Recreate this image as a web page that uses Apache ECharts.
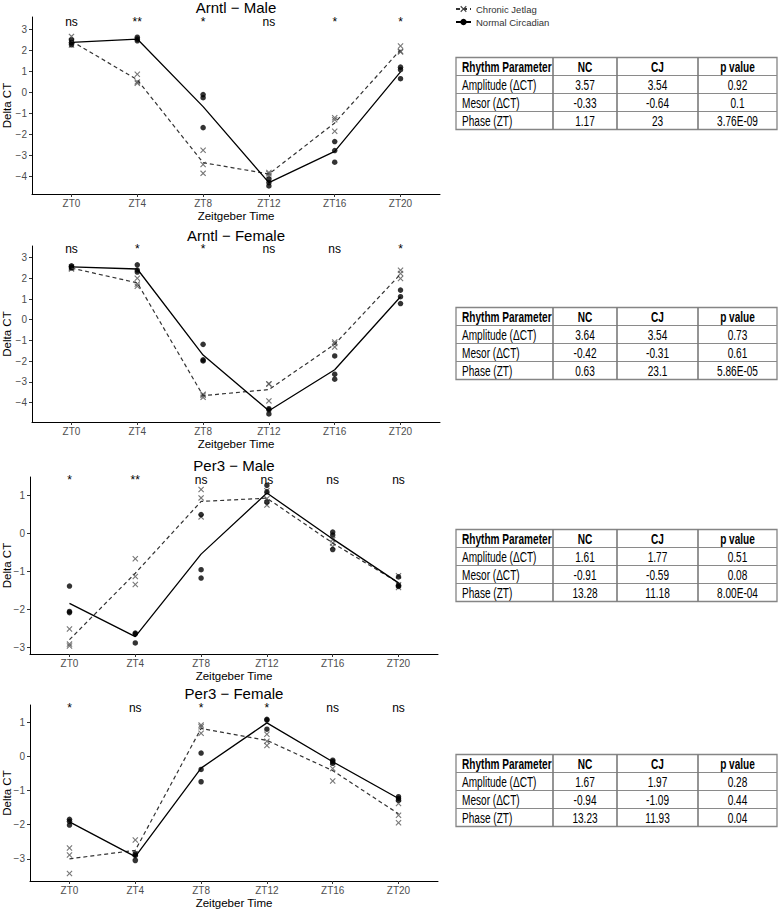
<!DOCTYPE html>
<html><head><meta charset="utf-8">
<script src="https://cdn.jsdelivr.net/npm/echarts@6/dist/echarts.min.js"></script>
<style>html,body{margin:0;padding:0;background:#fff}#c{width:779px;height:909px}</style>
</head><body><div id="c"></div>
<script>
// ---------- data ----------
const ztHours = [0, 4, 8, 12, 16, 20];
const ztLabels = ['ZT0', 'ZT4', 'ZT8', 'ZT12', 'ZT16', 'ZT20'];
const panelTitles = ['Arntl − Male', 'Arntl − Female', 'Per3 − Male', 'Per3 − Female'];
const seriesNames = ['Chronic Jetlag', 'Normal Circadian'];

// replicate Delta CT values per time point
const arntlMaleNC = [[2.49, 2.37, 2.26], [2.62, 2.53, 2.45], [-0.1, -0.25, -1.67], [-4.12, -4.28, -4.44], [-2.33, -2.76, -3.31], [1.2, 1.08, 0.65]];
const arntlMaleCJ = [[2.66, 2.4, 2.25], [0.86, 0.5, 0.44], [-2.74, -3.42, -3.84], [-3.8, -3.86, -3.95], [-1.2, -1.3, -1.84], [2.2, 1.95, 1.92]];
const arntlFemaleNC = [[2.6, 2.55, 2.5], [2.65, 2.4, 2.3], [-1.19, -1.94, -1.99], [-4.3, -4.35, -4.55], [-1.75, -2.63, -2.87], [1.43, 1.11, 0.78]];
const arntlFemaleCJ = [[2.55, 2.48, 2.45], [2.0, 1.72, 1.62], [-3.6, -3.65, -3.75], [-3.1, -3.1, -3.92], [-1.08, -1.15, -1.32], [2.39, 2.23, 1.99]];
const per3MaleNC = [[-1.38, -2.05, -2.08], [-2.62, -2.64, -2.88], [0.5, -0.95, -1.17], [1.27, 1.1, 0.83], [0.04, -0.04, -0.42], [-1.14, -1.36, -1.39]];
const per3MaleCJ = [[-2.51, -2.91, -2.96], [-0.66, -1.13, -1.34], [1.16, 0.94, 0.44], [1.13, 0.92, 0.75], [-0.16, -0.25, -0.34], [-1.11, -1.35, -1.42]];
const per3FemaleNC = [[-1.84, -1.9, -2.01], [-2.85, -2.9, -3.05], [0.1, -0.38, -0.74], [1.09, 1.07, 0.8], [-0.11, -0.15, -0.2], [-1.18, -1.23, -1.28]];
const per3FemaleCJ = [[-2.68, -2.89, -3.43], [-2.45, -2.85, -2.95], [0.92, 0.87, 0.68], [0.65, 0.45, 0.32], [-0.17, -0.35, -0.72], [-1.38, -1.72, -1.94]];

const sigArntlMale = ['ns', '**', '*', 'ns', '*', '*'];
const sigArntlFemale = ['ns', '*', '*', 'ns', 'ns', '*'];
const sigPer3Male = ['*', '**', 'ns', 'ns', 'ns', 'ns'];
const sigPer3Female = ['*', 'ns', '*', '*', 'ns', 'ns'];

const yTicksArntl = [-4, -3, -2, -1, 0, 1, 2, 3];
const yTicksPer3 = [-3, -2, -1, 0, 1];

const tableHeader = ['Rhythm Parameter', 'NC', 'CJ', 'p value'];
const rowLabels = ['Amplitude (ΔCT)', 'Mesor (ΔCT)', 'Phase (ZT)'];
const arntlMaleTable = [['3.57', '3.54', '0.92'], ['-0.33', '-0.64', '0.1'], ['1.17', '23', '3.76E-09']];
const arntlFemaleTable = [['3.64', '3.54', '0.73'], ['-0.42', '-0.31', '0.61'], ['0.63', '23.1', '5.86E-05']];
const per3MaleTable = [['1.61', '1.77', '0.51'], ['-0.91', '-0.59', '0.08'], ['13.28', '11.18', '8.00E-04']];
const per3FemaleTable = [['1.67', '1.97', '0.28'], ['-0.94', '-1.09', '0.44'], ['13.23', '11.93', '0.04']];

// ---------- layout ----------
const FONT = "'Liberation Sans', Arial, Helvetica, sans-serif";
const panels = [
  { nc: arntlMaleNC, cj: arntlMaleCJ, sig: sigArntlMale, ticks: yTicksArntl, table: arntlMaleTable,
    left: 32, top: 17, width: 408, height: 177, ymin: -4.82, ymax: 3.58, sigY: 3.33, titleTop: 0, tableTop: 57.5, nameGapY: 19 },
  { nc: arntlFemaleNC, cj: arntlFemaleCJ, sig: sigArntlFemale, ticks: yTicksArntl, table: arntlFemaleTable,
    left: 32, top: 246, width: 408, height: 176, ymin: -4.94, ymax: 3.56, sigY: 3.39, titleTop: 227.5, tableTop: 307.5, nameGapY: 19 },
  { nc: per3MaleNC, cj: per3MaleCJ, sig: sigPer3Male, ticks: yTicksPer3, table: per3MaleTable,
    left: 30, top: 477, width: 408, height: 177, ymin: -3.17, ymax: 1.49, sigY: 1.40, titleTop: 457.5, tableTop: 529.5, nameGapY: 17 },
  { nc: per3FemaleNC, cj: per3FemaleCJ, sig: sigPer3Female, ticks: yTicksPer3, table: per3FemaleTable,
    left: 30, top: 705, width: 408, height: 176, ymin: -3.65, ymax: 1.51, sigY: 1.41, titleTop: 685.5, tableTop: 754.5, nameGapY: 17 }
];

const xSymbol = 'path://M0,1.3L1.3,0L5,3.7L8.7,0L10,1.3L6.3,5L10,8.7L8.7,10L5,6.3L1.3,10L0,8.7L3.7,5Z';
const mean = a => a.reduce((s, v) => s + v, 0) / a.length;
const fmtMinus = v => String(v).replace('-', '−');

const grids = [], xAxes = [], yAxes = [], titles = [], series = [], graphics = [];

panels.forEach((p, i) => {
  grids.push({ left: p.left, top: p.top, width: p.width, height: p.height, containLabel: false, outerBoundsMode: 'none' });
  titles.push({ text: panelTitles[i], left: p.left + p.width / 2, top: p.titleTop, textAlign: 'center', padding: 0,
    textStyle: { fontSize: 15, fontWeight: 'normal', color: '#000', fontFamily: FONT } });
  xAxes.push({
    type: 'value', gridIndex: i, min: -2.4, max: 22.4,
    splitLine: { show: false },
    axisLine: { show: true, onZero: false, lineStyle: { color: '#000', width: 1 } },
    axisTick: { show: true, customValues: ztHours, length: 3, lineStyle: { color: '#333', width: 1 } },
    axisLabel: { customValues: ztHours, formatter: v => ztLabels[ztHours.indexOf(v)], color: '#4d4d4d', fontSize: 10, margin: 4, fontFamily: FONT },
    name: 'Zeitgeber Time', nameLocation: 'middle', nameGap: 16,
    nameTextStyle: { color: '#000', fontSize: 11.5, fontFamily: FONT }
  });
  yAxes.push({
    type: 'value', gridIndex: i, min: p.ymin, max: p.ymax,
    splitLine: { show: false },
    axisLine: { show: true, onZero: false, lineStyle: { color: '#000', width: 1 } },
    axisTick: { show: true, customValues: p.ticks, length: 3, lineStyle: { color: '#333', width: 1 } },
    axisLabel: { customValues: p.ticks, formatter: fmtMinus, color: '#4d4d4d', fontSize: 10, margin: 5, fontFamily: FONT },
    name: 'Delta CT', nameLocation: 'middle', nameGap: p.nameGapY, nameMoveOverlap: false,
    nameTextStyle: { color: '#000', fontSize: 11.5, fontFamily: FONT }
  });

  // mean lines
  series.push({
    type: 'line', name: seriesNames[0], xAxisIndex: i, yAxisIndex: i,
    data: ztHours.map((t, k) => [t, mean(p.cj[k])]),
    symbol: xSymbol, showSymbol: false, symbolSize: 6,
    itemStyle: { color: '#444' },
    lineStyle: { color: '#333', width: 1.2, type: [4, 3] }, z: 3, animation: false
  });
  series.push({
    type: 'line', name: seriesNames[1], xAxisIndex: i, yAxisIndex: i,
    data: ztHours.map((t, k) => [t, mean(p.nc[k])]),
    symbol: 'circle', showSymbol: false, symbolSize: 5,
    itemStyle: { color: '#000' },
    lineStyle: { color: '#000', width: 1.3 }, z: 3, animation: false
  });
  // replicate points
  const cjPts = [], ncPts = [];
  ztHours.forEach((t, k) => {
    p.cj[k].forEach(v => cjPts.push([t, v]));
    p.nc[k].forEach(v => ncPts.push([t, v]));
  });
  series.push({
    type: 'scatter', name: seriesNames[0], xAxisIndex: i, yAxisIndex: i, data: cjPts,
    symbol: xSymbol, symbolSize: 6, itemStyle: { color: '#555' }, z: 2, animation: false
  });
  series.push({
    type: 'scatter', name: seriesNames[1], xAxisIndex: i, yAxisIndex: i, data: ncPts,
    symbol: 'circle', symbolSize: 5.5, itemStyle: { color: '#000' }, z: 2, animation: false
  });
  // significance labels
  series.push({
    type: 'scatter', xAxisIndex: i, yAxisIndex: i, silent: true, color: '#000',
    data: ztHours.map(t => [t, p.sigY]),
    symbolSize: 1, itemStyle: { color: '#fff', opacity: 1 },
    label: { show: true, position: 'top', distance: -6, formatter: q => p.sig[q.dataIndex], color: '#000',
      textBorderWidth: 0, fontSize: 12, lineHeight: 12, fontFamily: FONT },
    z: 1, animation: false
  });

  // table
  const cols = [456, 553, 617, 698, 777];
  const rh = 18, T = p.tableTop;
  const kids = [];
  kids.push({ type: 'rect', shape: { x: cols[0], y: T, width: cols[4] - cols[0], height: rh * 4 },
    style: { fill: '#fff', stroke: '#858585', lineWidth: 1.3 } });
  for (let r = 1; r < 4; r++) {
    kids.push({ type: 'line', shape: { x1: cols[0], y1: T + r * rh, x2: cols[4], y2: T + r * rh },
      style: { stroke: '#8a8a8a', lineWidth: 1 } });
  }
  for (let c = 1; c < 4; c++) {
    kids.push({ type: 'line', shape: { x1: cols[c], y1: T, x2: cols[c], y2: T + 4 * rh },
      style: { stroke: '#7a7a7a', lineWidth: 1.6 } });
  }
  const rows = [tableHeader].concat(rowLabels.map((lab, r) => [lab].concat(p.table[r])));
  rows.forEach((row, r) => {
    row.forEach((txt, c) => {
      const isFirst = c === 0;
      kids.push({
        type: 'text',
        x: isFirst ? cols[0] + 6 : (cols[c] + cols[c + 1]) / 2,
        y: T + r * rh + rh / 2 + 0.5,
        scaleX: 0.72,
        style: {
          text: txt, x: 0, y: 0, fill: '#000',
          fontSize: 14, fontFamily: FONT, fontWeight: r === 0 ? 'bold' : 'normal',
          align: isFirst ? 'left' : 'center', verticalAlign: 'middle',
          textAlign: isFirst ? 'left' : 'center', textVerticalAlign: 'middle'
        }
      });
    });
  });
  graphics.push({ type: 'group', children: kids });
});

const chart = echarts.init(document.getElementById('c'), null, { renderer: 'svg' });
chart.setOption({
  backgroundColor: '#fff',
  animation: false,
  textStyle: { fontFamily: FONT },
  title: titles,
  legend: {
    data: seriesNames, orient: 'vertical', left: 455, top: 4, padding: 0,
    itemWidth: 15, itemHeight: 8, itemGap: 3, selectedMode: false,
    textStyle: { fontSize: 9.5, color: '#333', fontFamily: FONT }
  },
  grid: grids, xAxis: xAxes, yAxis: yAxes, series: series,
  graphic: graphics
});
</script></body></html>
